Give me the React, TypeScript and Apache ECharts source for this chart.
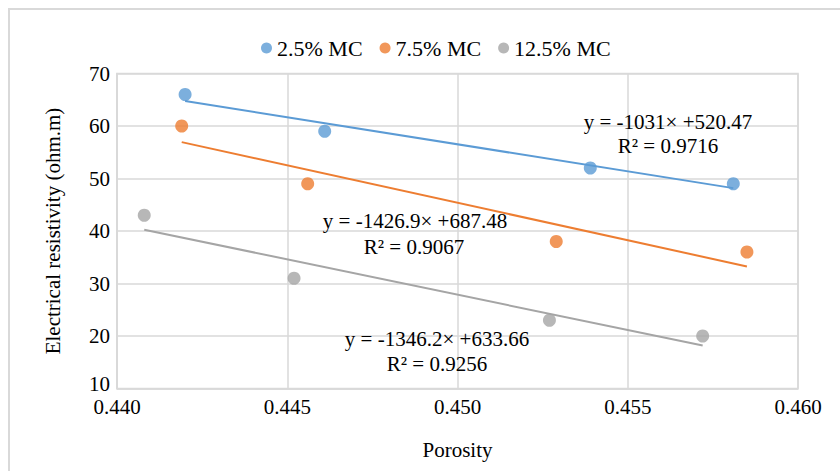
import React, { useEffect, useRef } from "react";
import * as echarts from "echarts";

const seriesNames = ["2.5% MC", "7.5% MC", "12.5% MC"];
const colors = ["#5b9bd5", "#ed7d31", "#a5a5a5"];

const porosity25 = [0.4420, 0.4461, 0.4539, 0.4581];
const resist25 = [66, 59, 52, 49];
const porosity75 = [0.4419, 0.4456, 0.4529, 0.4585];
const resist75 = [60, 49, 38, 36];
const porosity125 = [0.4408, 0.4452, 0.4527, 0.4572];
const resist125 = [43, 31, 23, 20];

const slopes = [-1031, -1426.9, -1346.2];
const intercepts = [520.47, 687.48, 633.66];
const eqTexts = ["y = -1031× +520.47", "y = -1426.9× +687.48", "y = -1346.2× +633.66"];
const r2Texts = ["R² = 0.9716", "R² = 0.9067", "R² = 0.9256"];

const xTicks = [0.44, 0.445, 0.45, 0.455, 0.46];
const yTicks = [10, 20, 30, 40, 50, 60, 70];

const FONT = "Liberation Serif";
const FS = 21;

export default function App() {
  const ref = useRef<HTMLDivElement>(null);
  useEffect(() => {
    if (!ref.current) return;
    const chart = echarts.init(ref.current, null, { renderer: "svg" });
    const xs = [porosity25, porosity75, porosity125];
    const ys = [resist25, resist75, resist125];
    const scatter = xs.map((px, i) => ({
      name: seriesNames[i],
      type: "scatter",
      data: px.map((x, j) => [x, ys[i][j]]),
      symbolSize: 13,
      itemStyle: { color: colors[i] },
      z: 3,
    }));
    const trends = xs.map((px, i) => {
      const x0 = Math.min(...px);
      const x1 = Math.max(...px);
      return {
        name: seriesNames[i] + " trend",
        type: "line",
        data: [
          [x0, slopes[i] * x0 + intercepts[i]],
          [x1, slopes[i] * x1 + intercepts[i]],
        ],
        symbol: "none",
        lineStyle: { color: colors[i], width: 2 },
        z: 2,
        silent: true,
      };
    });
    const txt = (x: number, y: number, t: string) => ({
      type: "text",
      x,
      y,
      style: {
        text: t,
        fill: "#000",
        fontFamily: FONT,
        fontSize: FS,
        align: "center",
        verticalAlign: "middle",
      },
      z: 10,
    });
    chart.setOption({
      animation: false,
      backgroundColor: "#fff",
      textStyle: { fontFamily: FONT, fontSize: FS },
      legend: {
        top: 32,
        left: 256,
        data: seriesNames.map((n) => ({ name: n, icon: "circle" })),
        itemWidth: 11,
        itemHeight: 11,
        itemGap: 17,
        textStyle: { fontFamily: FONT, fontSize: 22, color: "#000" },
      },
      grid: { left: 117, right: 42, top: 73.5, bottom: 82.5, show: true, borderColor: "#d9d9d9", borderWidth: 1.5 },
      xAxis: {
        type: "value",
        min: xTicks[0],
        max: xTicks[xTicks.length - 1],
        interval: 0.005,
        name: "Porosity",
        nameLocation: "middle",
        nameGap: 51,
        nameTextStyle: { fontFamily: FONT, fontSize: FS, color: "#000" },
        axisLine: { show: true, lineStyle: { color: "#d9d9d9", width: 1.5 } },
        axisTick: { show: false },
        axisLabel: {
          fontFamily: FONT,
          fontSize: FS,
          color: "#000",
          margin: 10,
          lineHeight: 16,
          formatter: (v: number) => v.toFixed(3),
        },
        splitLine: { show: true, lineStyle: { color: "#d9d9d9", width: 1.5 } },
      },
      yAxis: {
        type: "value",
        min: yTicks[0],
        max: yTicks[yTicks.length - 1],
        interval: 10,
        name: "Electrical resistivity (ohm.m)",
        nameLocation: "middle",
        nameGap: 54,
        nameTextStyle: { fontFamily: FONT, fontSize: FS, color: "#000" },
        axisLine: { show: true, lineStyle: { color: "#d9d9d9", width: 1.5 } },
        axisTick: { show: false },
        axisLabel: {
          fontFamily: FONT,
          fontSize: FS,
          color: "#000",
          margin: 7,
          lineHeight: 16,
          formatter: (v: number) => (v === yTicks[0] ? `{low|${v}}` : `${v}`),
          rich: {
            low: { fontFamily: FONT, fontSize: FS, color: "#000", lineHeight: 16, padding: [0, 0, 10, 0] },
          },
        },
        splitLine: { show: true, lineStyle: { color: "#d9d9d9", width: 1.5 } },
      },
      series: [...trends, ...scatter],
      graphic: [
        {
          type: "rect",
          shape: { x: 9, y: 9, width: 850, height: 480 },
          style: { fill: "none", stroke: "#d9d9d9", lineWidth: 2 },
          z: -1,
          silent: true,
        },
        txt(668, 122, eqTexts[0]),
        txt(668, 146, r2Texts[0]),
        txt(415, 221, eqTexts[1]),
        txt(414, 247, r2Texts[1]),
        txt(437, 339, eqTexts[2]),
        txt(437, 364, r2Texts[2]),
      ],
    });
    return () => chart.dispose();
  }, []);
  return <div ref={ref} style={{ width: 840, height: 471, position: "absolute", left: 0, top: 0 }} />;
}
